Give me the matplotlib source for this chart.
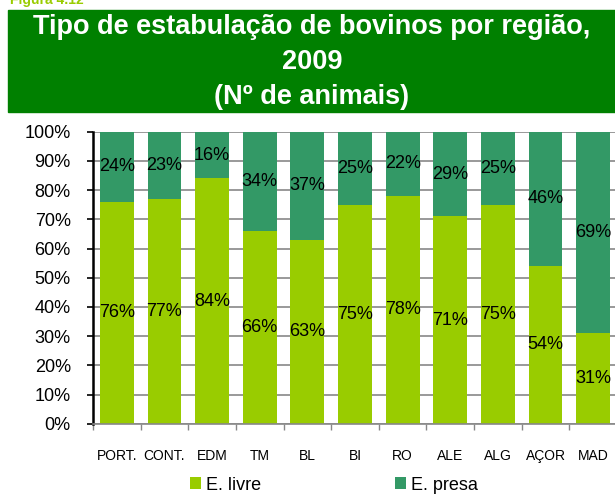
import matplotlib.pyplot as plt
from matplotlib.patches import Rectangle
from matplotlib.ticker import FixedLocator, PercentFormatter

regioes = ["PORT.", "CONT.", "EDM", "TM", "BL", "BI", "RO", "ALE", "ALG", "AÇOR", "MAD"]
livre = [76, 77, 84, 66, 63, 75, 78, 71, 75, 54, 31]
presa = [24, 23, 16, 34, 37, 25, 22, 29, 25, 46, 69]

VERDE_CLARO = "#99CC00"
VERDE_ESCURO = "#339966"
VERDE_TITULO = "#008000"

plt.rcParams["font.family"] = ["Liberation Sans", "DejaVu Sans"]

W, H = 615, 495
fig = plt.figure(figsize=(W / 100, H / 100), dpi=100)

# faixa verde do título
fig.patches.append(Rectangle((8 / W, 1 - 112 / H), 1, 102 / H, transform=fig.transFigure,
                             color=VERDE_TITULO, zorder=0))
# legenda da figura, cortada no topo como no original
fig.text(10 / W, 1 - 4 / H, "Figura 4.12", color=VERDE_CLARO, fontsize=10,
         fontweight="bold", va="baseline", ha="left")
fig.text(312 / W, 1 - 62 / H,
         "Tipo de estabulação de bovinos por região,\n2009\n(Nº de animais)",
         color="white", fontsize=19.5, fontweight="bold", ha="center", va="center",
         linespacing=1.45)

ax = fig.add_axes([93 / W, 71.3 / H, 524 / W, 292 / H])
x = list(range(len(regioes)))
largura = 0.71
b1 = ax.bar(x, livre, width=largura, color=VERDE_CLARO, label="E. livre", zorder=2)
b2 = ax.bar(x, presa, width=largura, bottom=livre, color=VERDE_ESCURO, label="E. presa", zorder=2)

for i in x:
    ax.text(i, livre[i] / 2, f"{livre[i]}%", ha="center", va="center", fontsize=13, zorder=3)
    ax.text(i, livre[i] + presa[i] / 2, f"{presa[i]}%", ha="center", va="center", fontsize=13, zorder=3)

ax.set_xlim(-0.5, len(regioes) - 0.5)
ax.set_ylim(0, 100)
ax.set_yticks(range(0, 101, 10))
ax.yaxis.set_major_formatter(PercentFormatter(decimals=0))
ax.yaxis.grid(True, color="#888888", linewidth=1.2, zorder=1)
ax.set_axisbelow(True)

ax.set_xticks(x)
ax.set_xticklabels(regioes, fontsize=10)
ax.xaxis.set_minor_locator(FixedLocator([i - 0.5 for i in range(len(regioes) + 1)]))
ax.tick_params(axis="x", which="major", length=0, pad=18)
ax.tick_params(axis="x", which="minor", length=4, color="#888888", width=1)
ax.tick_params(axis="y", length=4, width=1.2, color="black", labelsize=13, pad=12)

for s in ["top", "right"]:
    ax.spines[s].set_visible(False)
ax.spines["left"].set_color("black")
ax.spines["left"].set_linewidth(1.8)
ax.spines["bottom"].set_color("#888888")
ax.spines["bottom"].set_linewidth(1.2)

fig.legend(handles=[b1, b2], loc="center", bbox_to_anchor=(334 / W, 1 - 485 / H), ncol=2,
           frameon=False, fontsize=13, handlelength=0.6, handleheight=0.6,
           handletextpad=0.3, columnspacing=7.4)

fig.savefig("out.png", dpi=100)
